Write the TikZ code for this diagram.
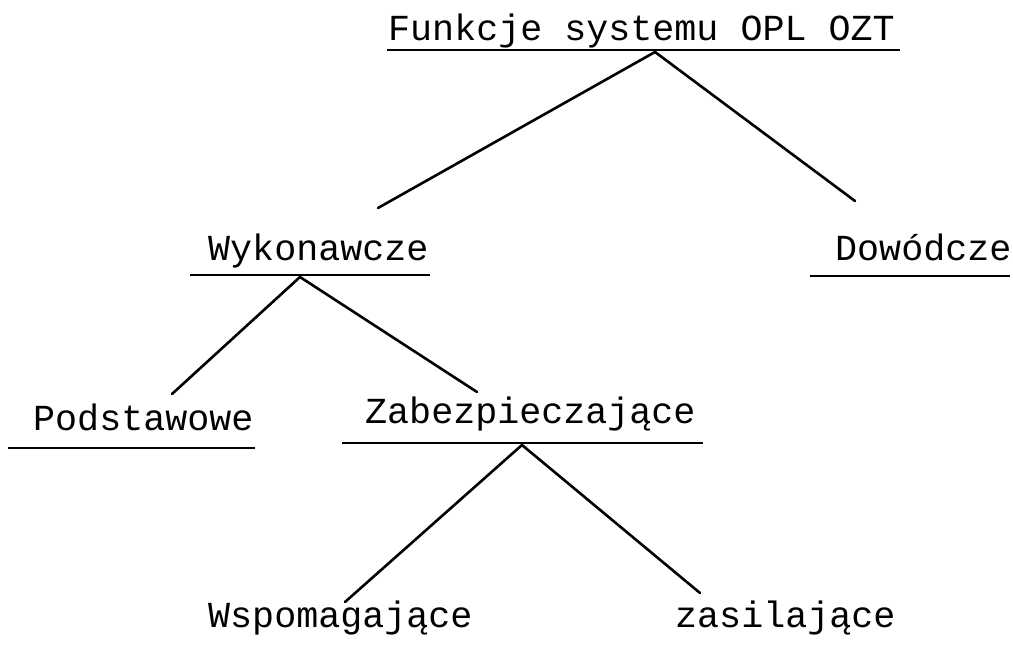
\documentclass[tikz,border=0pt]{standalone}
\usepackage{fontspec}
\setmonofont{Liberation Mono}
\begin{document}
\begin{tikzpicture}[x=1pt,y=-1pt,
  lbl/.style={anchor=base west,inner sep=0pt,font=\fontsize{36.7}{40}\selectfont\ttfamily},
  edge/.style={line width=2.6pt,line cap=round},
  uline/.style={line width=2.4pt}]
\useasboundingbox[fill=white] (0,0) rectangle (1013,648);
% labels
\node[lbl] (t)  at (388,40)  {Funkcje systemu OPL OZT};
\node[lbl] (w)  at (208,260) {Wykonawcze};
\node[lbl] (d)  at (835,260) {Dowódcze};
\node[lbl] (p)  at (33,430)  {Podstawowe};
\node[lbl] (z)  at (365,423) {Zabezpieczające};
\node[lbl] (ws) at (208,627) {Wspomagające};
\node[lbl] (zs) at (675,627) {zasilające};
% underlines
\coordinate (tU1) at (387,50);  \coordinate (tU2) at (900,50);
\coordinate (wU1) at (190,275); \coordinate (wU2) at (430,275);
\coordinate (dU1) at (810,276); \coordinate (dU2) at (1010,276);
\coordinate (pU1) at (8,448);   \coordinate (pU2) at (255,448);
\coordinate (zU1) at (342,443); \coordinate (zU2) at (703,443);
\foreach \a/\b in {tU1/tU2,wU1/wU2,dU1/dU2,pU1/pU2,zU1/zU2}
  \draw[uline] (\a) -- (\b);
% connectors
\coordinate (tA) at (655,52);
\coordinate (wE) at (378,208);
\coordinate (dE) at (855,201);
\coordinate (wA) at (300,277);
\coordinate (pE) at (172,394);
\coordinate (zE) at (477,392);
\coordinate (zA) at (522,445);
\coordinate (wsE) at (345,602);
\coordinate (zsE) at (700,593);
\draw[edge] (tA) -- (wE);
\draw[edge] (tA) -- (dE);
\draw[edge] (wA) -- (pE);
\draw[edge] (wA) -- (zE);
\draw[edge] (zA) -- (wsE);
\draw[edge] (zA) -- (zsE);
\end{tikzpicture}
\end{document}
